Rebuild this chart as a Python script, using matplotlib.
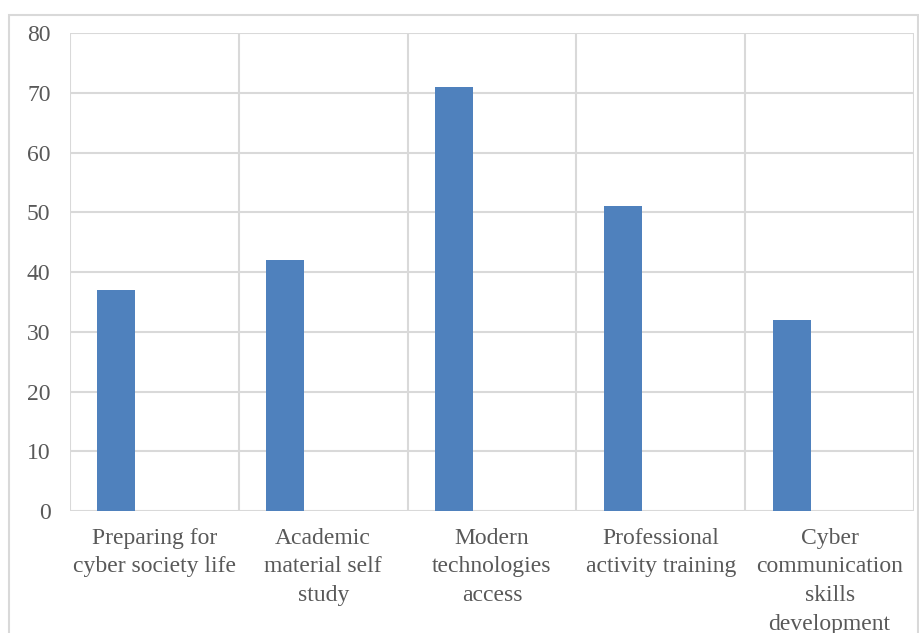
import matplotlib
matplotlib.use("Agg")
import matplotlib.pyplot as plt
from matplotlib.patches import Rectangle
import numpy as np

categories = [
    "Preparing for\ncyber society life",
    "Academic\nmaterial self\nstudy",
    "Modern\ntechnologies\naccess",
    "Professional\nactivity training",
    "Cyber\ncommunication\nskills\ndevelopment",
]
values = [37, 42, 71, 51, 32]
y_ticks = [0, 10, 20, 30, 40, 50, 60, 70, 80]

plt.rcParams["font.family"] = ["Liberation Serif", "DejaVu Serif"]

W, H = 919, 633
fig = plt.figure(figsize=(W / 100, H / 100), dpi=100)

# plot area in pixel coordinates
left, right, top, bottom = 70, 914, 33, 511
ax = fig.add_axes([left / W, 1 - bottom / H, (right - left) / W, (bottom - top) / H])

grid_color = "#d9d9d9"
text_color = "#595959"

x = np.arange(len(categories))
bar_w = 0.225
ax.bar(x - bar_w, values, width=bar_w, color="#4f81bd", zorder=3)

ax.set_xlim(-0.5, len(categories) - 0.5)
ax.set_ylim(0, 80)
ax.set_yticks(y_ticks)
ax.set_yticklabels([str(t) for t in y_ticks], fontsize=17, color=text_color)
ax.tick_params(axis="y", length=0, pad=14)

# category labels centred in each slot
ax.set_xticks(x)
ax.set_xticklabels(categories, fontsize=17, color=text_color, linespacing=1.48)
ax.tick_params(axis="x", length=0, pad=12)

# horizontal gridlines and vertical slot dividers
for t in y_ticks:
    ax.axhline(t, color=grid_color, lw=1.5, zorder=1)
for b in np.arange(len(categories) + 1) - 0.5:
    ax.axvline(b, color=grid_color, lw=1.5, zorder=1)

for s in ax.spines.values():
    s.set_visible(False)

# chart frame
fig.patches.append(Rectangle((9 / W, -0.05), (918 - 9) / W, 1.05 - 15 / H,
                             transform=fig.transFigure, fill=False,
                             edgecolor=grid_color, lw=1.5))

fig.savefig("out.png", dpi=100, facecolor="white")
